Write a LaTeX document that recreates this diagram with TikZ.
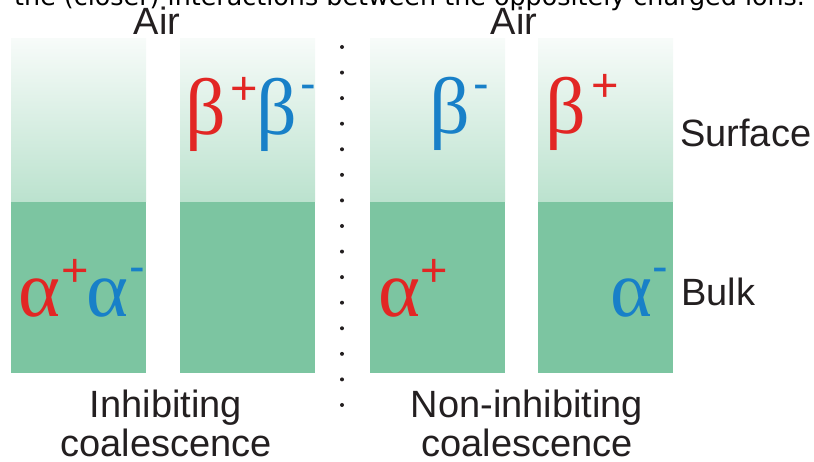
\documentclass[tikz,border=0pt]{standalone}
\usepackage{fontspec}
\setmainfont{Liberation Sans}
\newfontfamily\greekfont{Liberation Serif}
\newfontfamily\captionfont{DejaVu Sans}
\usepackage{xcolor}
\definecolor{bulkgreen}{RGB}{124,197,161}
\definecolor{surfgreen}{RGB}{187,226,206}
\definecolor{surftop}{RGB}{247,251,249}
\definecolor{ionred}{RGB}{226,38,36}
\definecolor{ionblue}{RGB}{24,128,200}
\definecolor{inkgray}{RGB}{35,31,32}

\begin{document}
\begin{tikzpicture}[x=1pt, y=1pt,
  surf/.style={top color=surftop, bottom color=surfgreen, draw=none},
  bulk/.style={fill=bulkgreen},
  ion/.style={inner sep=0pt, font=\greekfont\fontsize{80}{80}\selectfont},
  sgn/.style={inner sep=0pt, font=\fontsize{47}{47}\selectfont},
  lbl/.style={inner sep=0pt, text=inkgray, font=\fontsize{38}{44}\selectfont}]
  \useasboundingbox (0,0) rectangle (814,461);
  \clip (0,0) rectangle (814,461);

  % Caption line cut off by the frame
  \node[inner sep=0pt, anchor=base west, font=\captionfont\fontsize{25.4}{30}\selectfont] (capline) at (14,455) {the (closer) interactions between the oppositely charged ions.};

  % Four columns: surface layer on top, bulk below
  \foreach \x in {11,180,370,538} {
    \shade[surf] (\x,259) rectangle ++(135,163);
    \fill[bulk] (\x,88) rectangle ++(135,171);
  }

  % Dotted divider
  \foreach \k in {0,...,14}
    \fill[inkgray] (342,{414-25.57*\k}) circle (2);

  % Inhibiting: beta pair at surface, alpha pair in bulk
  \node[ion, text=ionred] (a1p) at (39.5,162.5) {α};
  \node[sgn, text=ionred] (s1p) at (75,188) {+};
  \node[ion, text=ionblue] (a1m) at (107,162.5) {α};
  \node[sgn, text=ionblue] (s1m) at (137,186) {-};
  \node[ion, text=ionred] (b2p) at (205.5,346) {β};
  \node[sgn, text=ionred] (t2p) at (244,370) {+};
  \node[ion, text=ionblue] (b2m) at (276.5,346) {β};
  \node[sgn, text=ionblue] (t2m) at (308,369) {-};

  % Non-inhibiting: ions split between columns
  \node[ion, text=ionblue] (b3m) at (450,347) {β};
  \node[sgn, text=ionblue] (t3m) at (481,369) {-};
  \node[ion, text=ionred] (a3p) at (399.5,162.5) {α};
  \node[sgn, text=ionred] (s3p) at (434,188) {+};
  \node[ion, text=ionred] (b4p) at (565.5,347) {β};
  \node[sgn, text=ionred] (t4p) at (605,373) {+};
  \node[ion, text=ionblue] (a4m) at (631,162.5) {α};
  \node[sgn, text=ionblue] (s4m) at (660,186) {-};

  % Labels
  \node[lbl, anchor=base] (air1) at (157,426) {Air};
  \node[lbl, anchor=base] (air2) at (514,426) {Air};
  \node[lbl, anchor=west] (surface) at (680,328) {Surface};
  \node[lbl, anchor=west] (bulklbl) at (681,169) {Bulk};
  \node[lbl, anchor=base] (inh) at (166,44) {Inhibiting};
  \node[lbl, anchor=base] (coal1) at (166,5) {coalescence};
  \node[lbl, anchor=base] (noninh) at (527,44) {Non-inhibiting};
  \node[lbl, anchor=base] (coal2) at (527,5) {coalescence};
\end{tikzpicture}
\end{document}
